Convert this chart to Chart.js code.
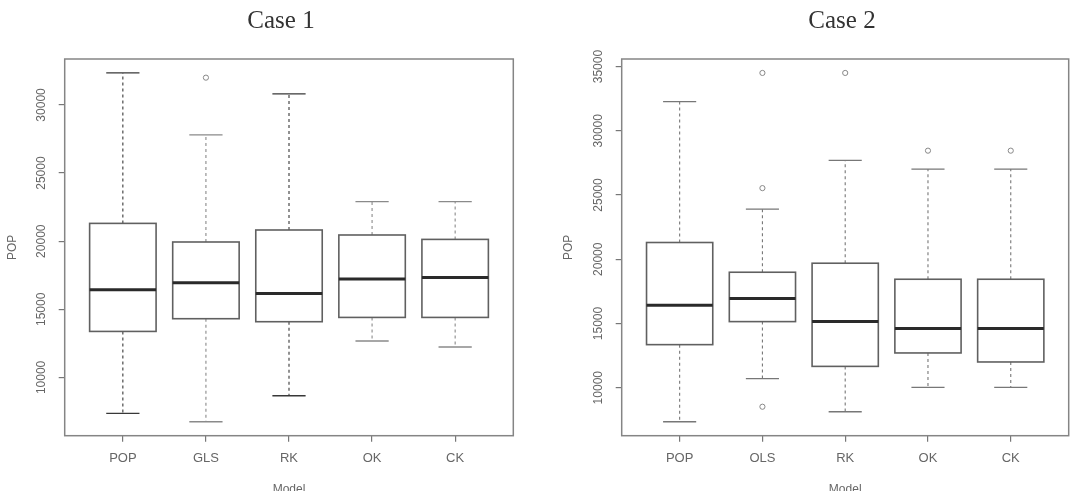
<!DOCTYPE html>
<html>
<head>
<meta charset="utf-8">
<script src="https://cdn.jsdelivr.net/npm/chart.js@4.4.1/dist/chart.umd.min.js"></script>
<style>
  html, body { margin:0; padding:0; background:#ffffff; overflow:hidden; width:1078px; height:491px; }
  .wrap { position:absolute; top:0; width:539px; height:500px; }
  #w1 { left:0; }
  #w2 { left:539px; }
  canvas { display:block; }
</style>
</head>
<body>
<div class="wrap" id="w1"><canvas id="c1" width="539" height="500"></canvas></div>
<div class="wrap" id="w2"><canvas id="c2" width="539" height="500"></canvas></div>
<script>
// ---------------- DATA ----------------
// Case 1
const title1 = 'Case 1';
const categories1 = ['POP', 'GLS', 'RK', 'OK', 'CK'];
const whiskerLow1  = [7364, 6747, 8656, 12673, 12232];
const q1Values1    = [13377, 14310, 14090, 14405, 14405];
const median1      = [16439, 16945, 16167, 17225, 17342];
const q3Values1    = [21307, 19941, 20822, 20455, 20132];
const whiskerHigh1 = [32349, 27797, 30808, 22900, 22900];
const outliers1    = [[], [32004], [], [], []];
const yTicks1      = [10000, 15000, 20000, 25000, 30000];

// Case 2
const title2 = 'Case 2';
const categories2 = ['POP', 'OLS', 'RK', 'OK', 'CK'];
const whiskerLow2  = [7350, 10702, 8129, 10023, 10023];
const q1Values2    = [13352, 15145, 11660, 12705, 12003];
const median2      = [16416, 16938, 15145, 14599, 14599];
const q3Values2    = [21303, 18988, 19690, 18442, 18442];
const whiskerHigh2 = [32271, 23899, 27696, 27017, 27017];
const outliers2    = [[], [34501, 25536, 8519], [34501], [28452], [28452]];
const yTicks2      = [10000, 15000, 20000, 25000, 30000, 35000];

const xAxisTitle = 'Model';
const yAxisTitle = 'POP';

// ---------------- STYLE ----------------
const whiskerColors1 = ['#383838', '#8a8a8a', '#383838', '#8a8a8a', '#8a8a8a'];
const whiskerColors2 = ['#777777', '#777777', '#777777', '#777777', '#777777'];

const SANS = '"Liberation Sans", Arial, Helvetica, sans-serif';
const SERIF = '"Liberation Serif", "Times New Roman", serif';
const CANVAS_H = 500;
const PLOT_TOP = 59;
const PLOT_BOTTOM = 435.7;

function makeBoxPlugin(stats, style) {
  return {
    id: 'boxes',
    beforeDatasetsDraw(chart) {
      const { ctx, chartArea } = chart;
      const x = chart.scales.x, y = chart.scales.y;
      ctx.save();
      for (let i = 0; i < stats.median.length; i++) {
        const cx = x.getPixelForValue(i + 1);
        const hw = x.getPixelForValue(i + 1.4) - cx;
        const sw = hw / 2;
        const pLo = y.getPixelForValue(stats.low[i]);
        const pQ1 = y.getPixelForValue(stats.q1[i]);
        const pMd = y.getPixelForValue(stats.median[i]);
        const pQ3 = y.getPixelForValue(stats.q3[i]);
        const pHi = y.getPixelForValue(stats.high[i]);
        // whiskers (dashed)
        ctx.strokeStyle = style.whisker[i];
        ctx.lineWidth = 1.1;
        ctx.setLineDash([3, 3]);
        ctx.beginPath();
        ctx.moveTo(cx, pQ1); ctx.lineTo(cx, pLo);
        ctx.moveTo(cx, pQ3); ctx.lineTo(cx, pHi);
        ctx.stroke();
        ctx.setLineDash([]);
        // staples
        ctx.lineWidth = 1.3;
        ctx.beginPath();
        ctx.moveTo(cx - sw, pLo); ctx.lineTo(cx + sw, pLo);
        ctx.moveTo(cx - sw, pHi); ctx.lineTo(cx + sw, pHi);
        ctx.stroke();
        // box
        ctx.strokeStyle = '#606060';
        ctx.lineWidth = 1.6;
        ctx.strokeRect(cx - hw, pQ3, 2 * hw, pQ1 - pQ3);
        // median
        ctx.strokeStyle = '#2a2a2a';
        ctx.lineWidth = 3;
        ctx.beginPath();
        ctx.moveTo(cx - hw, pMd); ctx.lineTo(cx + hw, pMd);
        ctx.stroke();
      }
      // plot frame
      ctx.strokeStyle = '#858585';
      ctx.lineWidth = 1.5;
      ctx.strokeRect(chartArea.left, chartArea.top, chartArea.right - chartArea.left, chartArea.bottom - chartArea.top);
      ctx.restore();
    },
    afterDraw(chart) {
      const ctx = chart.ctx;
      ctx.save();
      ctx.font = '25px ' + SERIF;
      ctx.fillStyle = '#333333';
      ctx.textAlign = 'center';
      ctx.textBaseline = 'middle';
      ctx.fillText(style.title, style.titleX, 21.5);
      ctx.restore();
    }
  };
}

function buildChart(canvasId, o) {
  const allVals = [].concat(o.low, o.high, ...o.outliers);
  const dMin = Math.min(...allVals), dMax = Math.max(...allVals);
  const pad = (dMax - dMin) * 0.04;
  const outlierPts = [];
  o.outliers.forEach((arr, i) => arr.forEach(v => outlierPts.push({ x: i + 1, y: v })));

  return new Chart(document.getElementById(canvasId), {
    type: 'scatter',
    data: {
      datasets: [{
        label: 'outliers',
        data: outlierPts,
        pointRadius: 2.6,
        pointBorderWidth: 1,
        pointBorderColor: '#888888',
        pointBackgroundColor: '#ffffff'
      }]
    },
    options: {
      responsive: false,
      animation: false,
      devicePixelRatio: 1,
      layout: { padding: { top: PLOT_TOP, left: 0, bottom: 0, right: o.padRight } },
      plugins: { legend: { display: false }, tooltip: { enabled: false }, title: { display: false } },
      scales: {
        x: {
          type: 'linear',
          min: 0.3,
          max: 5.7,
          afterBuildTicks: s => { s.ticks = o.categories.map((c, i) => ({ value: i + 1 })); },
          afterFit: s => { s.height = CANVAS_H - PLOT_BOTTOM; },
          ticks: {
            autoSkip: false, minRotation: 0, maxRotation: 0, padding: 9,
            color: '#666666', font: { family: SANS, size: 13 },
            callback: v => o.categories[Math.round(v) - 1] || ''
          },
          grid: { display: true, drawOnChartArea: false, drawTicks: true, tickLength: 6, color: '#777777', lineWidth: 1.2 },
          border: { display: false },
          title: { display: true, text: xAxisTitle, color: '#666666', font: { family: SANS, size: 12 }, padding: { top: 0, bottom: 3.3 } }
        },
        y: {
          type: 'linear',
          min: dMin - pad,
          max: dMax + pad,
          afterBuildTicks: s => { s.ticks = o.yTicks.map(v => ({ value: v })); },
          afterFit: s => { s.width = o.plotLeft; },
          ticks: {
            autoSkip: false, minRotation: 90, maxRotation: 90, crossAlign: 'center', padding: 0,
            color: '#666666', font: { family: SANS, size: 12 },
            callback: v => String(v)
          },
          grid: { display: true, drawOnChartArea: false, drawTicks: true, tickLength: 6, color: '#777777', lineWidth: 1.2 },
          border: { display: false },
          title: { display: true, text: yAxisTitle, color: '#666666', font: { family: SANS, size: 12 }, padding: { top: o.yTitlePad, bottom: 0 } }
        }
      }
    },
    plugins: [makeBoxPlugin(
      { low: o.low, q1: o.q1, median: o.median, q3: o.q3, high: o.high },
      { whisker: o.whiskerColors, title: o.title, titleX: o.titleX }
    )]
  });
}

buildChart('c1', {
  categories: categories1, low: whiskerLow1, q1: q1Values1, median: median1, q3: q3Values1,
  high: whiskerHigh1, outliers: outliers1, yTicks: yTicks1, whiskerColors: whiskerColors1,
  title: title1, titleX: 281, plotLeft: 64.7, padRight: 25.7, yTitlePad: 5.1
});
buildChart('c2', {
  categories: categories2, low: whiskerLow2, q1: q1Values2, median: median2, q3: q3Values2,
  high: whiskerHigh2, outliers: outliers2, yTicks: yTicks2, whiskerColors: whiskerColors2,
  title: title2, titleX: 303, plotLeft: 82.7, padRight: 9.3, yTitlePad: 22.3
});
</script>
</body>
</html>
